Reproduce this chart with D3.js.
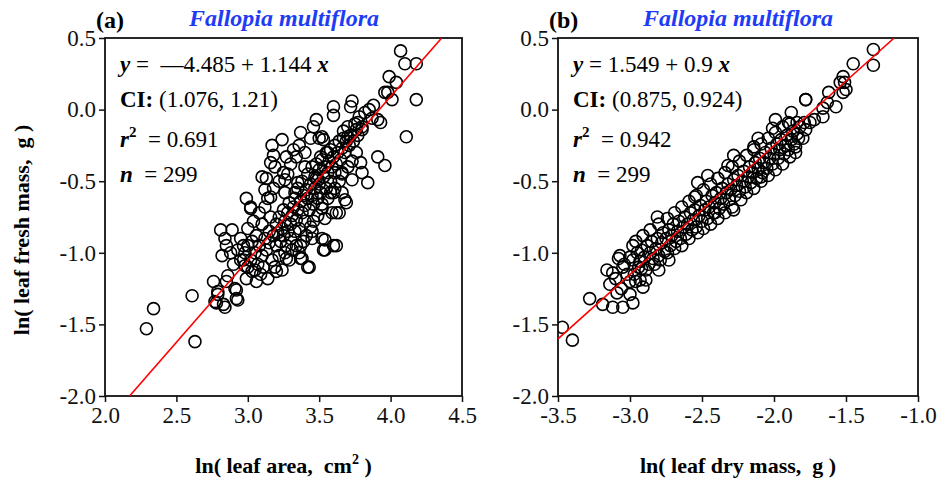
<!DOCTYPE html>
<html><head><meta charset="utf-8">
<script src="https://cdn.jsdelivr.net/npm/d3@7"></script>
<style>body{margin:0;background:#fff}svg text{white-space:pre;font-family:'Liberation Serif','Times New Roman',serif}
.tick text{font-size:23px !important;fill:#111}</style>
</head><body>
<script>
// ---- data ----
const xTickValsA = [2.0, 2.5, 3.0, 3.5, 4.0, 4.5];
const xTickValsB = [-3.5, -3.0, -2.5, -2.0, -1.5, -1.0];
const yTickVals = [0.5, 0.0, -0.5, -1.0, -1.5, -2.0];
const fitA = {intercept: -4.485, slope: 1.144};
const fitB = {intercept: 1.549, slope: 0.9};
const statsA = [" —4.485 + 1.144", "(1.076, 1.21)", "0.691", "299"];
const statsB = ["1.549 + 0.9", "(0.875, 0.924)", "0.942", "299"];

// panel (a): ln(leaf area), ln(leaf fresh mass)
const pointsA = [
[4.07,0.41],[4.10,0.32],[4.18,0.32],[3.99,0.23],[4.04,0.19],[3.96,0.12],[3.98,0.12],[4.01,0.07],[4.18,0.07],
[3.73,0.06],[3.72,0.02],[3.60,0.02],[3.60,-0.04],[3.48,-0.07],[4.11,-0.19],[3.91,-0.07],[3.93,-0.09],[3.87,-0.06],
[3.77,-0.09],[3.76,-0.14],[3.80,-0.14],[3.37,-0.16],[3.24,-0.21],[3.17,-0.25],[3.52,-0.19],[3.53,-0.21],[3.67,-0.20],
[3.70,-0.19],[3.18,-0.32],[3.27,-0.33],[3.34,-0.33],[3.16,-0.37],[3.19,-0.40],[3.40,-0.40],[3.51,-0.33],[3.56,-0.30],
[3.91,-0.33],[3.96,-0.39],[3.79,-0.37],[3.80,-0.44],[3.84,-0.51],[3.10,-0.47],[3.13,-0.48],[3.25,-0.44],[3.26,-0.49],
[3.35,-0.51],[3.47,-0.47],[3.49,-0.49],[3.61,-0.44],[3.66,-0.44],[3.73,-0.49],[2.99,-0.62],[3.02,-0.69],[3.12,-0.56],
[3.16,-0.61],[3.26,-0.58],[3.33,-0.58],[3.60,-0.58],[3.66,-0.58],[3.68,-0.63],[3.52,-0.69],[3.59,-0.72],[3.62,-0.72],
[3.54,-0.76],[2.81,-0.84],[2.84,-0.90],[2.89,-0.84],[2.95,-0.90],[2.97,-0.95],[3.00,-0.83],[3.45,-0.85],[3.45,-0.90],
[3.52,-0.90],[3.53,-0.98],[3.60,-0.95],[3.37,-0.95],[3.37,-1.04],[3.42,-1.10],[3.20,-1.13],[3.27,-1.04],[2.97,-1.05],
[2.98,-1.09],[2.86,-1.16],[2.85,-1.20],[2.76,-1.20],[2.91,-1.25],[2.92,-1.32],[2.79,-1.27],[2.77,-1.34],[2.83,-1.36],
[2.84,-1.38],[2.99,-1.18],[3.06,-1.20],[3.03,-1.13],[2.34,-1.39],[2.29,-1.53],[2.63,-1.62],[2.61,-1.30],[2.79,-1.29],
[2.78,-1.35],[2.92,-1.26],[2.93,-1.33],[3.02,-0.68],[3.38,-1.04],[3.43,-1.10],[3.54,-0.98],[3.62,-0.95],[3.54,-0.91],
[3.64,-0.72],[3.69,-0.65],
[3.05,-1.00],[3.08,-0.95],[3.10,-1.02],[3.12,-0.90],[3.13,-0.98],[3.15,-0.85],[3.15,-0.93],[3.17,-1.05],[3.18,-0.88],
[3.20,-0.80],[3.20,-0.95],[3.21,-0.86],[3.22,-0.75],[3.23,-0.92],[3.24,-0.83],[3.25,-0.70],[3.25,-0.88],[3.26,-0.78],
[3.27,-0.95],[3.28,-0.72],[3.28,-0.85],[3.29,-0.65],[3.30,-0.80],[3.30,-0.90],[3.31,-0.74],[3.32,-0.68],[3.33,-0.85],
[3.33,-0.62],[3.34,-0.77],[3.35,-0.70],[3.35,-0.55],[3.36,-0.83],[3.37,-0.64],[3.38,-0.72],[3.38,-0.50],[3.39,-0.60],
[3.40,-0.78],[3.40,-0.67],[3.41,-0.56],[3.42,-0.62],[3.42,-0.45],[3.43,-0.70],[3.44,-0.52],[3.45,-0.60],[3.45,-0.40],
[3.46,-0.66],[3.47,-0.55],[3.48,-0.48],[3.48,-0.38],[3.49,-0.62],[3.50,-0.52],[3.50,-0.42],[3.51,-0.58],[3.52,-0.35],
[3.53,-0.47],[3.54,-0.40],[3.55,-0.55],[3.55,-0.30],[3.56,-0.44],[3.57,-0.36],[3.58,-0.50],[3.58,-0.28],[3.59,-0.40],
[3.60,-0.33],[3.61,-0.25],[3.62,-0.38],[3.63,-0.30],[3.64,-0.22],[3.65,-0.35],[3.66,-0.27],[3.67,-0.15],[3.68,-0.30],
[3.69,-0.22],[3.70,-0.12],[3.71,-0.25],[3.72,-0.18],[3.74,-0.22],[3.75,-0.10],[3.77,-0.18],[3.78,-0.05],[3.80,-0.12],
[3.82,-0.02],[3.85,0.00],[3.88,0.03],
[2.95,-1.05],[2.98,-1.00],[3.00,-1.10],[3.00,-0.95],[3.02,-1.05],[3.03,-0.92],[3.05,-1.12],[3.06,-0.88],[3.07,-1.08],
[3.09,-1.15],[3.10,-0.80],[3.11,-1.10],[3.14,-1.18],[3.16,-0.75],[3.19,-1.10],[3.22,-1.02],[3.24,-1.12],[3.26,-1.00],
[3.29,-1.05],[3.31,-0.98],[3.34,-0.95],[3.36,-1.00],[3.39,-0.92],[3.41,-0.88],[3.44,-0.82],[3.46,-0.78],[3.49,-0.74],
[3.52,-0.66],[3.56,-0.62],[3.58,-0.58],[3.61,-0.55],[3.64,-0.50],[3.66,-0.45],[3.70,-0.40],[3.73,-0.36],[3.76,-0.30],
[2.88,-1.00],[2.90,-1.08],[2.93,-0.98],[2.85,-0.95],[2.82,-1.02],[3.04,-0.78],[3.08,-0.72],[3.12,-0.68],[3.14,-0.62],
[3.18,-0.55],[3.22,-0.50],[3.28,-0.45],[3.30,-0.38],[3.32,-0.28],[3.36,-0.25],[3.40,-0.30],[3.44,-0.20],[3.46,-0.12],
[3.50,-0.20]
];

// panel (b): ln(leaf dry mass), ln(leaf fresh mass)
const pointsB = [
[-1.31,0.42],[-1.31,0.31],[-1.45,0.32],[-1.52,0.23],[-1.54,0.19],[-1.51,0.19],[-1.50,0.14],[-1.52,0.12],[-1.62,0.12],
[-1.63,0.05],[-1.57,0.02],[-1.78,0.07],[-1.78,0.07],[-1.66,0.01],[-1.66,-0.05],[-1.72,-0.07],[-1.75,-0.09],[-1.79,-0.09],
[-1.88,-0.02],[-1.90,-0.09],[-1.84,-0.09],[-1.83,-0.20],[-1.85,-0.26],[-1.99,-0.07],[-2.01,-0.13],[-2.11,-0.20],
[-2.14,-0.26],[-2.28,-0.32],[-2.32,-0.39],[-2.09,-0.47],[-2.46,-0.46],[-2.53,-0.51],[-2.55,-0.61],[-3.47,-1.52],
[-3.40,-1.61],[-3.28,-1.32],[-3.19,-1.36],[-3.12,-1.38],[-3.05,-1.38],[-3.00,-1.29],[-2.98,-1.35],[-3.09,-1.28],
[-3.10,-1.18],[-3.12,-1.14],[-3.16,-1.12],[-3.08,-1.04],[-3.07,-1.02],[-2.98,-0.95],[-3.00,-1.03],[-2.98,-1.05],
[-2.92,-1.11],[-2.93,-1.19],[-2.89,-1.19],[-2.91,-1.24],[-2.81,-0.75],[-2.80,-1.12],[-2.73,-1.05],[-2.28,-0.70],
[-2.41,-0.72],
[-2.95,-1.00],[-2.93,-1.06],[-2.92,-0.98],[-2.90,-1.03],[-2.88,-0.95],[-2.87,-1.08],[-2.86,-1.00],[-2.85,-0.92],
[-2.84,-1.04],[-2.82,-0.97],[-2.81,-0.90],[-2.80,-1.02],[-2.78,-0.93],[-2.77,-0.86],[-2.76,-0.99],[-2.75,-0.90],
[-2.73,-0.84],[-2.72,-0.95],[-2.71,-0.88],[-2.70,-0.80],[-2.68,-0.92],[-2.67,-0.85],[-2.66,-0.78],[-2.65,-0.90],
[-2.63,-0.82],[-2.62,-0.75],[-2.61,-0.87],[-2.60,-0.80],[-2.58,-0.72],[-2.57,-0.84],[-2.56,-0.77],[-2.55,-0.70],
[-2.54,-0.82],[-2.52,-0.74],[-2.51,-0.67],[-2.50,-0.78],[-2.48,-0.70],[-2.47,-0.64],[-2.46,-0.76],[-2.45,-0.68],
[-2.43,-0.60],[-2.42,-0.72],[-2.41,-0.65],[-2.40,-0.58],[-2.38,-0.69],[-2.37,-0.62],[-2.36,-0.55],[-2.35,-0.66],
[-2.33,-0.58],[-2.32,-0.52],[-2.31,-0.63],[-2.30,-0.56],[-2.28,-0.49],[-2.27,-0.60],[-2.26,-0.53],[-2.25,-0.46],
[-2.24,-0.57],[-2.22,-0.50],[-2.21,-0.43],[-2.20,-0.54],[-2.18,-0.47],[-2.17,-0.40],[-2.16,-0.51],[-2.15,-0.44],
[-2.13,-0.37],[-2.12,-0.48],[-2.11,-0.41],[-2.10,-0.34],[-2.08,-0.44],[-2.07,-0.37],[-2.06,-0.30],[-2.05,-0.41],
[-2.03,-0.34],[-2.02,-0.27],[-2.01,-0.38],[-2.00,-0.31],[-1.98,-0.24],[-1.97,-0.34],[-1.96,-0.28],[-1.95,-0.21],
[-1.93,-0.31],[-1.92,-0.25],[-1.91,-0.18],[-1.90,-0.28],[-1.88,-0.21],[-1.87,-0.15],[-1.86,-0.24],[-1.84,-0.17],
[-1.82,-0.12],[-1.80,-0.20],[-1.78,-0.14],
[-2.94,-1.10],[-2.89,-1.12],[-2.83,-1.08],[-2.79,-1.05],[-2.74,-1.00],[-2.69,-0.97],[-2.64,-0.95],[-2.59,-0.90],
[-2.53,-0.86],[-2.49,-0.83],[-2.44,-0.80],[-2.39,-0.76],[-2.34,-0.72],[-2.29,-0.68],[-2.23,-0.63],[-2.19,-0.58],
[-2.14,-0.55],[-2.09,-0.50],[-2.04,-0.46],[-1.99,-0.42],[-1.94,-0.38],[-1.89,-0.33],[-1.85,-0.30],
[-2.96,-0.92],[-2.91,-0.88],[-2.86,-0.84],[-2.80,-0.80],[-2.74,-0.76],[-2.69,-0.72],[-2.64,-0.68],[-2.59,-0.64],
[-2.54,-0.60],[-2.49,-0.56],[-2.44,-0.52],[-2.39,-0.48],[-2.34,-0.44],[-2.29,-0.40],[-2.24,-0.36],[-2.19,-0.32],
[-2.14,-0.28],[-2.09,-0.24],[-2.04,-0.20],[-1.99,-0.16],[-1.94,-0.12],[-1.89,-0.10],
[-3.05,-1.10],[-3.02,-1.15],[-3.00,-1.20],[-3.04,-1.08],[-2.97,-1.15],[-3.14,-1.22],[-3.06,-1.25],[-2.96,-1.20]
];

// ---- drawing ----
const W = 939, H = 478;
const FONT = "'Liberation Serif','Times New Roman',serif";
const svg = d3.select("body").append("svg").attr("width", W).attr("height", H)
  .attr("font-family", FONT);

function panel(o) {
  const x = d3.scaleLinear().domain(o.xDomain).range([o.left, o.right]);
  const y = d3.scaleLinear().domain([-2, 0.5]).range([o.bottom, o.top]);
  const g = svg.append("g");
  const fmt = d => d.toFixed(1);

  const ax = g.append("g").attr("transform", `translate(0,${o.bottom})`)
    .call(d3.axisBottom(x).tickValues(o.xTicks).tickFormat(fmt).tickSize(6).tickSizeOuter(0).tickPadding(5));
  const ay = g.append("g").attr("transform", `translate(${o.left},0)`)
    .call(d3.axisLeft(y).tickValues(yTickVals).tickFormat(fmt).tickSize(6).tickSizeOuter(0).tickPadding(3));
  [ax, ay].forEach(a => {
    a.attr("font-family", null).attr("font-size", null);
    a.select(".domain").remove();
    a.selectAll("line").attr("stroke", "#111").attr("stroke-width", 1.5);
    a.selectAll("text").style("font-size", "23px").style("font-family", FONT);
  });

  // frame
  g.append("rect").attr("x", o.left).attr("y", o.top)
    .attr("width", o.right - o.left).attr("height", o.bottom - o.top)
    .attr("fill", "none").attr("stroke", "#111").attr("stroke-width", 1.8);

  const clipId = "clip" + o.id;
  svg.append("clipPath").attr("id", clipId).append("rect")
    .attr("x", o.left).attr("y", o.top).attr("width", o.right - o.left).attr("height", o.bottom - o.top);

  const pg = g.append("g").attr("clip-path", `url(#${clipId})`);
  pg.selectAll("circle").data(o.points).join("circle")
    .attr("cx", d => x(d[0])).attr("cy", d => y(d[1])).attr("r", 6)
    .attr("fill", "none").attr("stroke", "#000").attr("stroke-width", 1.6);

  // fitted line
  const xd = o.xDomain;
  let x0 = Math.max(xd[0], (-2 - o.fit.intercept) / o.fit.slope);
  let x1 = Math.min(xd[1], (0.5 - o.fit.intercept) / o.fit.slope);
  pg.append("line")
    .attr("x1", x(x0)).attr("y1", y(o.fit.intercept + o.fit.slope * x0))
    .attr("x2", x(x1)).attr("y2", y(o.fit.intercept + o.fit.slope * x1))
    .attr("stroke", "#ff0000").attr("stroke-width", 1.6);

  // panel label and title
  g.append("text").attr("x", o.left - 9).attr("y", 28).attr("font-size", 24)
    .attr("font-weight", "bold").text(o.label);
  g.append("text").attr("x", o.titleX).attr("y", 26).attr("font-size", 24)
    .attr("font-weight", "bold").attr("font-style", "italic").attr("fill", "#1f3cf5")
    .attr("text-anchor", "middle").text("Fallopia multiflora");

  // statistics text
  const tx = o.left + 15, fs = 23;
  const t1 = g.append("text").attr("x", tx).attr("y", 72).attr("font-size", fs);
  t1.append("tspan").attr("font-weight", "bold").attr("font-style", "italic").text("y");
  t1.append("tspan").text(" = " + o.stats[0] + " ");
  t1.append("tspan").attr("font-weight", "bold").attr("font-style", "italic").text("x");
  const t2 = g.append("text").attr("x", tx).attr("y", 107).attr("font-size", fs);
  t2.append("tspan").attr("font-weight", "bold").text("CI: ");
  t2.append("tspan").text(o.stats[1]);
  const t3 = g.append("text").attr("x", tx).attr("y", 147).attr("font-size", fs);
  t3.append("tspan").attr("font-weight", "bold").attr("font-style", "italic").text("r");
  t3.append("tspan").attr("font-weight", "bold").attr("font-size", 15).attr("dy", -10).text("2");
  t3.append("tspan").attr("dy", 10).text("  = " + o.stats[2]);
  const t4 = g.append("text").attr("x", tx).attr("y", 182).attr("font-size", fs);
  t4.append("tspan").attr("font-weight", "bold").attr("font-style", "italic").text("n");
  t4.append("tspan").text("  = " + o.stats[3]);

  // x axis title
  const xt = g.append("text").attr("x", (o.left + o.right) / 2).attr("y", 473)
    .attr("text-anchor", "middle").attr("font-size", 22).attr("font-weight", "bold");
  o.xTitle(xt);
}

panel({id: "a", left: 105, right: 462, top: 38, bottom: 396, xDomain: [2, 4.5], xTicks: xTickValsA,
  points: pointsA, fit: fitA, stats: statsA, label: "(a)", titleX: 284,
  xTitle: t => { t.append("tspan").text("ln( leaf area,  cm");
                 t.append("tspan").attr("font-size", 14).attr("dy", -9).text("2");
                 t.append("tspan").attr("dy", 9).text(" )"); }});
panel({id: "b", left: 558, right: 918, top: 38, bottom: 396, xDomain: [-3.5, -1.0], xTicks: xTickValsB,
  points: pointsB, fit: fitB, stats: statsB, label: "(b)", titleX: 738,
  xTitle: t => t.text("ln( leaf dry mass,  g )")});

// y axis title
svg.append("text").attr("transform", "translate(29,230) rotate(-90)")
  .attr("text-anchor", "middle").attr("font-size", 22).attr("font-weight", "bold")
  .text("ln( leaf fresh mass,  g )");
</script>
</body></html>
